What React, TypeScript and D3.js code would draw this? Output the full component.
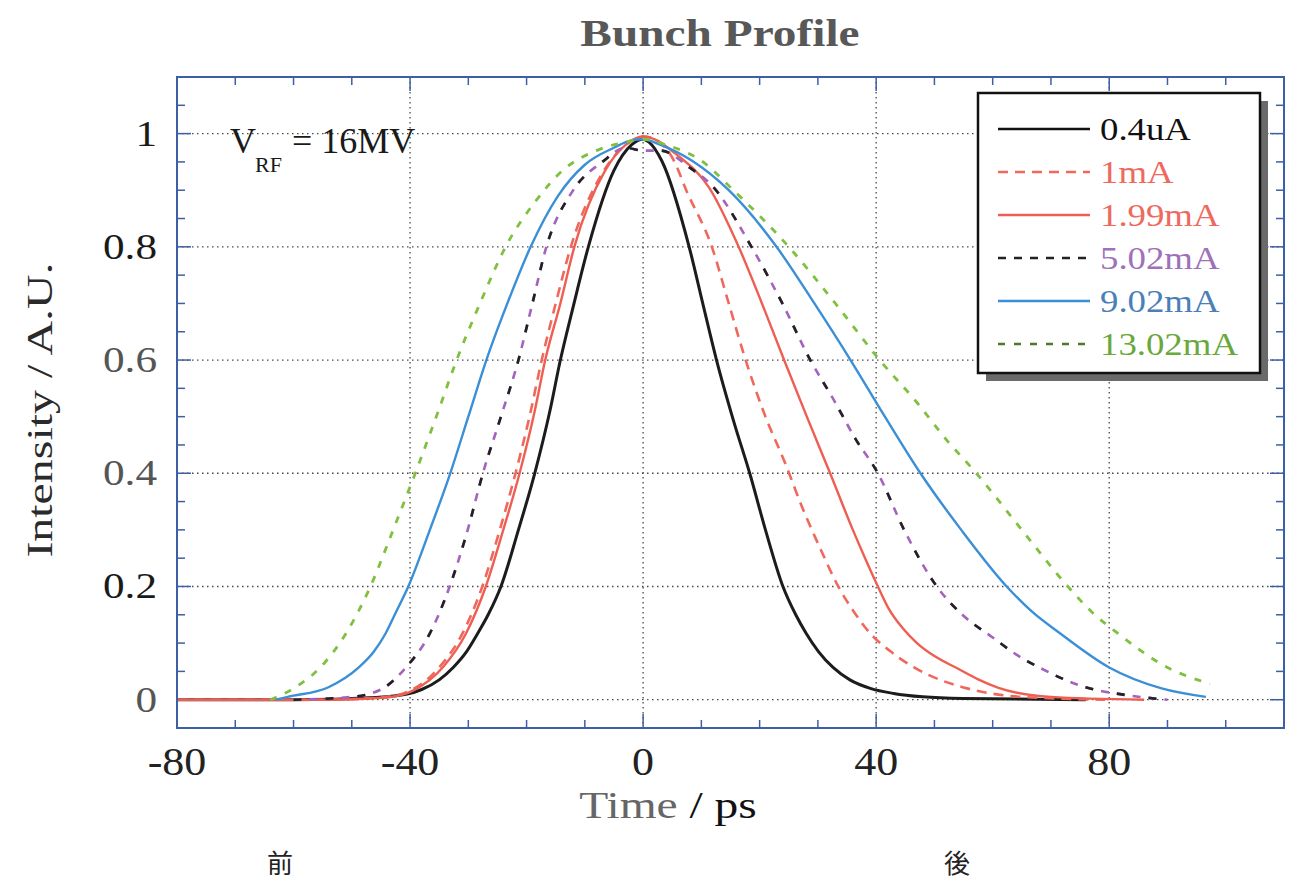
import React from 'react';
import * as d3 from 'd3';

// ---- data (time in ps, normalised intensity) ----
const X_TICKS = [-80, -40, 0, 40, 80];
const Y_TICKS = [0, 0.2, 0.4, 0.6, 0.8, 1];
const Y_TICK_LABELS = ['0', '0.2', '0.4', '0.6', '0.8', '1'];
const LEGEND_LABELS = ['0.4uA', '1mA', '1.99mA', '5.02mA', '9.02mA', '13.02mA'];

const s04uA: [number, number][] = [
  [-80, 0], [-60, 0], [-46, 0.004], [-40.5, 0.01], [-38, 0.018], [-35, 0.035], [-32.6, 0.057],
  [-30.3, 0.085], [-28.4, 0.117], [-26.6, 0.15], [-24.4, 0.2], [-21.4, 0.3], [-18.6, 0.4],
  [-16, 0.51], [-14.2, 0.6], [-12.1, 0.69], [-9.4, 0.8], [-5, 0.935], [-2, 0.98], [0, 0.99],
  [1, 0.985], [3.2, 0.952], [7.9, 0.8], [10.4, 0.693], [12.6, 0.6], [15.6, 0.49], [18.3, 0.4],
  [21, 0.3], [24, 0.2], [26.2, 0.15], [28, 0.117], [30.1, 0.085], [32.6, 0.057],
  [35.5, 0.035], [39, 0.02], [43, 0.011], [48, 0.005], [55, 0.002], [76, 0],
];
const s1mA: [number, number][] = [
  [-80, 0], [-55, 0], [-45, 0.004], [-40, 0.016], [-35, 0.057], [-31, 0.117], [-27.6, 0.2],
  [-24.6, 0.3], [-21.9, 0.4], [-19.5, 0.5], [-17.4, 0.6], [-15, 0.7], [-12.4, 0.8], [-7, 0.93],
  [-3, 0.98], [0, 0.995], [2, 0.99], [5.3, 0.952], [7.4, 0.9], [11.8, 0.8], [14.7, 0.7],
  [17.6, 0.6], [21, 0.5], [24.3, 0.42], [27.3, 0.34], [30.5, 0.265], [33.5, 0.2], [36.2, 0.155],
  [39, 0.117], [42.5, 0.085], [46.5, 0.057], [51, 0.035], [55.6, 0.02], [65, 0.005], [80, 0],
];
const s199mA: [number, number][] = [
  [-80, 0], [-55, 0], [-44, 0.004], [-39.5, 0.016], [-34.4, 0.057], [-30.4, 0.117], [-27, 0.2],
  [-24, 0.3], [-21.2, 0.4], [-18.6, 0.51], [-16.8, 0.6], [-14.2, 0.7], [-11.8, 0.8], [-6.5, 0.935],
  [-3, 0.98], [0, 0.995], [2, 0.99], [5.5, 0.965], [11.3, 0.905], [16.4, 0.8], [20.4, 0.7],
  [24.2, 0.6], [28.1, 0.5], [32.1, 0.4], [36, 0.3], [38.1, 0.25], [40.3, 0.2], [42.2, 0.16],
  [44.5, 0.127], [47, 0.1], [50, 0.077], [54, 0.055], [57.5, 0.036], [61, 0.021], [70, 0.005], [86, 0],
];
const s502mA: [number, number][] = [
  [-60, 0], [-50, 0.005], [-45, 0.018], [-40.7, 0.057], [-36.6, 0.117], [-33.2, 0.2],
  [-30.3, 0.293], [-27.5, 0.4], [-24.4, 0.5], [-21.4, 0.6], [-19, 0.7], [-16.6, 0.8], [-12, 0.9],
  [-7, 0.95], [-3, 0.975], [0, 0.97], [3, 0.97], [8, 0.94], [12.1, 0.905], [18.6, 0.8],
  [23.9, 0.7], [28.7, 0.6], [32.7, 0.53], [36.5, 0.46], [40.3, 0.4], [44.8, 0.3], [50.4, 0.2],
  [54.8, 0.15], [60, 0.11], [64, 0.08], [68, 0.057], [75, 0.025], [83, 0.008], [90, 0],
];
const s902mA: [number, number][] = [
  [-63, 0], [-61, 0.005], [-54, 0.022], [-48.8, 0.057], [-46.2, 0.085], [-44.2, 0.117],
  [-42.4, 0.155], [-40.3, 0.2], [-36.6, 0.3], [-33.1, 0.4], [-30, 0.5], [-26.9, 0.6], [-23.3, 0.7],
  [-19.3, 0.8], [-14.6, 0.89], [-10, 0.945], [-5, 0.975], [-2, 0.988], [0, 0.99], [3, 0.98],
  [8.4, 0.952], [14.7, 0.9], [22.9, 0.8], [29.4, 0.7], [35.6, 0.6], [41.5, 0.5], [47.6, 0.4],
  [54.6, 0.3], [62.4, 0.2], [66.8, 0.155], [71.6, 0.117], [80, 0.057], [89, 0.02], [96.6, 0.005],
];
const s1302mA: [number, number][] = [
  [-64, 0], [-60, 0.02], [-55.4, 0.057], [-51, 0.117], [-46.8, 0.2], [-42.9, 0.3], [-39.1, 0.4],
  [-35.5, 0.5], [-32, 0.6], [-28, 0.7], [-23.6, 0.8], [-18.5, 0.88], [-13.8, 0.935], [-8, 0.97],
  [-3, 0.985], [0, 0.99], [4, 0.98], [10, 0.952], [15.5, 0.9], [25, 0.8], [33, 0.7],
  [40.6, 0.6], [47, 0.525], [52, 0.46], [57.2, 0.4], [65, 0.3], [72.9, 0.2], [77, 0.155],
  [81.5, 0.117], [90, 0.057], [97.3, 0.028],
];

const SERIES = [
  { data: s04uA, color: '#1c1c1c', text: '#111111', dash: '', width: 3, legendColor: '#111111' },
  { data: s1mA, color: '#f0685c', text: '#ee6a5e', dash: '10 7', width: 2.6, legendColor: '#f0685c' },
  { data: s199mA, color: '#ee5e52', text: '#ee6a5e', dash: '', width: 2.4, legendColor: '#ee5e52' },
  { data: s502mA, color: '#a463bd', text: '#a070b8', dash: '8 8', width: 2.6, legendColor: '#222222', alt: '#222222' },
  { data: s902mA, color: '#3b8fd6', text: '#4a7fb8', dash: '', width: 2.4, legendColor: '#3b8fd6' },
  { data: s1302mA, color: '#80c040', text: '#6aa83a', dash: '7 9', width: 2.8, legendColor: '#4a7a2a' },
];

// ---- layout ----
const W = 1294;
const H = 881;
const PL = 177, PR = 1284, PT = 77, PB = 728;

const St = ({ x, y, sx = 1, anchor = 'start', size, fill = '#222', weight = 'normal', family = '"Liberation Serif", "Times New Roman", serif', children, rotate = 0 }: any) => (
  <g transform={`translate(${x},${y}) rotate(${rotate}) scale(${sx},1)`}>
    <text textAnchor={anchor} fontSize={size} fill={fill} fontWeight={weight} fontFamily={family}>{children}</text>
  </g>
);

export default function App() {
  const x = d3.scaleLinear().domain([-80, 110]).range([PL, PR]);
  const y = d3.scaleLinear().domain([-0.05, 1.1]).range([PB, PT]);
  const line = d3.line<[number, number]>().x(d => x(d[0])).y(d => y(d[1])).curve(d3.curveMonotoneX);

  const xMinor = d3.range(-80, 111, 10);
  const yMinor = d3.range(-0.05, 1.1001, 0.05).map(v => Math.round(v * 100) / 100);
  const frame = '#3d5fa6';
  const isMajorX = (t: number) => X_TICKS.includes(t);
  const isMajorY = (v: number) => Y_TICKS.some(m => Math.abs(m - v) < 1e-6);

  const legX = 978, legY = 93, legW = 282, legH = 280;
  const rowY = (i: number) => 129 + i * 43;

  return (
    <svg width={W} height={H} style={{ position: 'absolute', left: 0, top: 0, display: 'block', background: '#fff' }}>
      <defs>
        <clipPath id="plotclip"><rect x={PL} y={PT} width={PR - PL} height={PB - PT} /></clipPath>
      </defs>
      {/* title */}
      <St x={720} y={46} sx={1.28} anchor="middle" size={37} weight="bold" fill="#585858">Bunch Profile</St>

      {/* grid */}
      <g stroke="#4a4a4a" strokeWidth={1.3} strokeDasharray="1.5 3.5">
        {X_TICKS.filter(t => t > -80).map(t => (
          <line key={'gx' + t} x1={x(t)} x2={x(t)} y1={PT} y2={PB} />
        ))}
        {Y_TICKS.map(v => (
          <line key={'gy' + v} x1={PL} x2={PR} y1={y(v)} y2={y(v)} />
        ))}
      </g>

      {/* ticks */}
      <g stroke={frame} strokeWidth={1.5}>
        {xMinor.map(t => {
          const L = isMajorX(t) ? 14 : 8;
          return (
            <g key={'tx' + t}>
              <line x1={x(t)} x2={x(t)} y1={PB} y2={PB - L} />
              <line x1={x(t)} x2={x(t)} y1={PT} y2={PT + L} />
            </g>
          );
        })}
        {yMinor.map(v => {
          const L = isMajorY(v) ? 14 : 8;
          return (
            <g key={'ty' + v}>
              <line x1={PL} x2={PL + L} y1={y(v)} y2={y(v)} />
              <line x1={PR} x2={PR - L} y1={y(v)} y2={y(v)} />
            </g>
          );
        })}
      </g>

      {/* curves */}
      <g clipPath="url(#plotclip)" fill="none" strokeLinejoin="round">
        {SERIES.map((s, i) => (
          <g key={'s' + i}>
            <path d={line(s.data) || ''} stroke={s.color} strokeWidth={s.width} strokeDasharray={s.dash || undefined} />
            {s.alt && (
              <path d={line(s.data) || ''} stroke={s.alt} strokeWidth={s.width} strokeDasharray="8 24" />
            )}
          </g>
        ))}
      </g>

      {/* frame */}
      <rect x={PL} y={PT} width={PR - PL} height={PB - PT} fill="none" stroke={frame} strokeWidth={2} />

      {/* axis labels */}
      {Y_TICKS.map((v, i) => (
        <St key={'yl' + v} x={157} y={y(v) + 12} sx={1.2} anchor="end" size={36} fill={i === 1 || i === 4 || i === 5 ? '#1a1a1a' : '#555'}>{Y_TICK_LABELS[i]}</St>
      ))}
      {X_TICKS.map(t => (
        <St key={'xl' + t} x={x(t)} y={775} sx={1.1} anchor="middle" size={40} fill="#222">{t}</St>
      ))}
      <St x={52} y={410} rotate={-90} sx={1.33} anchor="middle" size={36} fill="#2a2a2a">Intensity / A.U.</St>
      <g transform="translate(668,818) scale(1.25,1)">
        <text textAnchor="middle" fontSize={38} fontFamily='"Liberation Serif", serif'>
          <tspan fill="#666">Time</tspan><tspan fill="#111"> / ps</tspan>
        </text>
      </g>

      {/* annotation */}
      <St x={230} y={153} size={36} fill="#1a1a1a">V</St>
      <St x={255} y={172} size={22} fill="#1a1a1a">RF</St>
      <St x={292} y={153} size={36} fill="#1a1a1a">= 16MV</St>

      {/* legend */}
      <rect x={legX + 8} y={legY + 8} width={legW} height={legH} fill="#6a6a6a" />
      <rect x={legX} y={legY} width={legW} height={legH} fill="#fff" stroke="#111" strokeWidth={2.5} />
      {SERIES.map((s, i) => (
        <g key={'lg' + i}>
          <line x1={998} x2={1090} y1={rowY(i)} y2={rowY(i)} stroke={s.legendColor} strokeWidth={2.4} strokeDasharray={s.dash || undefined} />
          <St x={1100} y={rowY(i) + 11} sx={1.15} size={32} fill={s.text}>{LEGEND_LABELS[i]}</St>
        </g>
      ))}

      {/* CJK notes */}
      <text x={280} y={873} textAnchor="middle" fontSize={26} fontFamily='"Noto Sans CJK JP", sans-serif' fill="#222">前</text>
      <text x={957} y={873} textAnchor="middle" fontSize={26} fontFamily='"Noto Sans CJK JP", sans-serif' fill="#222">後</text>
    </svg>
  );
}
